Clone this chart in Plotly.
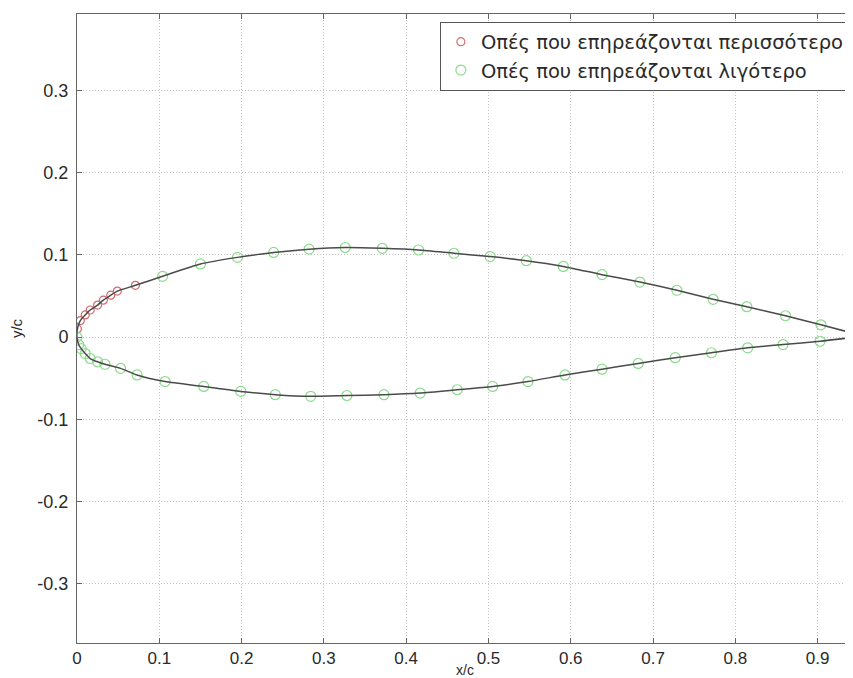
import plotly.graph_objects as go

# Holes affected more (upper leading edge) - red
red_x = [0.0005, 0.004, 0.010, 0.016, 0.025, 0.032, 0.041, 0.049, 0.071]
red_y = [0.010, 0.020, 0.027, 0.033, 0.039, 0.045, 0.051, 0.056, 0.063]

# Holes affected less - green (upper surface, after leading edge)
gu_x = [0.104, 0.150, 0.195, 0.239, 0.282, 0.326, 0.371, 0.415, 0.458, 0.502,
        0.546, 0.591, 0.638, 0.684, 0.729, 0.773, 0.814, 0.861, 0.904, 0.946]
gu_y = [0.074, 0.089, 0.097, 0.103, 0.107, 0.109, 0.108, 0.106, 0.102, 0.098,
        0.093, 0.086, 0.076, 0.067, 0.057, 0.046, 0.037, 0.026, 0.015, 0.004]

# Holes affected less - green (lower surface)
gl_x = [0.0, 0.002, 0.005, 0.010, 0.016, 0.025, 0.034, 0.053, 0.073, 0.107,
        0.154, 0.199, 0.241, 0.284, 0.328, 0.373, 0.417, 0.462, 0.505, 0.548,
        0.593, 0.638, 0.682, 0.727, 0.771, 0.815, 0.858, 0.903, 0.946]
gl_y = [0.0, -0.009, -0.014, -0.020, -0.026, -0.030, -0.033, -0.038, -0.046, -0.054,
        -0.060, -0.066, -0.070, -0.072, -0.071, -0.070, -0.068, -0.064, -0.060, -0.054,
        -0.046, -0.039, -0.032, -0.025, -0.019, -0.013, -0.009, -0.005, 0.000]

x_ticks = [0, 0.1, 0.2, 0.3, 0.4, 0.5, 0.6, 0.7, 0.8, 0.9]
x_ticktext = ["0", "0.1", "0.2", "0.3", "0.4", "0.5", "0.6", "0.7", "0.8", "0.9"]
y_ticks = [-0.3, -0.2, -0.1, 0, 0.1, 0.2, 0.3]
y_ticktext = ["-0.3", "-0.2", "-0.1", "0", "0.1", "0.2", "0.3"]

legend_names = ["Οπές που επηρεάζονται περισσότερο", "Οπές που επηρεάζονται λιγότερο"]

# contour line: upper from trailing edge to leading edge, then lower surface
contour_x = gu_x[::-1] + red_x[::-1] + gl_x
contour_y = gu_y[::-1] + red_y[::-1] + gl_y

FONT = "Liberation Sans, Arial, sans-serif"

fig = go.Figure()
fig.add_trace(go.Scatter(
    x=red_x, y=red_y, mode="markers", name=legend_names[0],
    marker=dict(symbol="circle-open", size=8, color="#d26c6c", line=dict(width=1.2)),
))
fig.add_trace(go.Scatter(
    x=gu_x + gl_x, y=gu_y + gl_y, mode="markers", name=legend_names[1],
    marker=dict(symbol="circle-open", size=10, color="#8cdc8c", line=dict(width=1.2)),
))
fig.add_trace(go.Scatter(
    x=contour_x, y=contour_y, mode="lines", showlegend=False,
    line=dict(color="#4a4a4a", width=1.5, shape="spline", smoothing=0.6),
    hoverinfo="skip",
))

axis_common = dict(
    showline=True, linecolor="#666666", linewidth=1, mirror="ticks",
    ticks="inside", ticklen=5, tickcolor="#666666",
    showgrid=True, gridcolor="#c4c4c4", griddash="1px,2px", gridwidth=1,
    zeroline=False, automargin=False,
)

fig.update_xaxes(range=[0, 0.943], tickvals=x_ticks, ticktext=x_ticktext,
                 tickfont=dict(family=FONT, size=17, color="#2a2a2a"),
                 title=dict(text="x/c", standoff=0,
                            font=dict(family=FONT, size=14, color="#2a2a2a")),
                 **axis_common)
fig.update_yaxes(range=[-0.372, 0.393], tickvals=y_ticks, ticktext=y_ticktext,
                 tickfont=dict(family=FONT, size=18, color="#2a2a2a"),
                 ticklabelstandoff=4,
                 title=dict(text="y/c", standoff=16,
                            font=dict(family=FONT, size=15, color="#2a2a2a")),
                 **axis_common)

fig.update_layout(
    width=845, height=670,
    margin=dict(l=69, r=0, t=6, b=35),
    plot_bgcolor="white", paper_bgcolor="white",
    font=dict(family=FONT, color="#2a2a2a"),
    legend=dict(x=0.996, xanchor="right", y=0.988, yanchor="top",
                bgcolor="white", bordercolor="#555555", borderwidth=1,
                font=dict(family="DejaVu Sans, sans-serif", size=19.5, color="#2a2a2a"),
                tracegroupgap=0),
    showlegend=True,
)

fig.write_html("out.html")
